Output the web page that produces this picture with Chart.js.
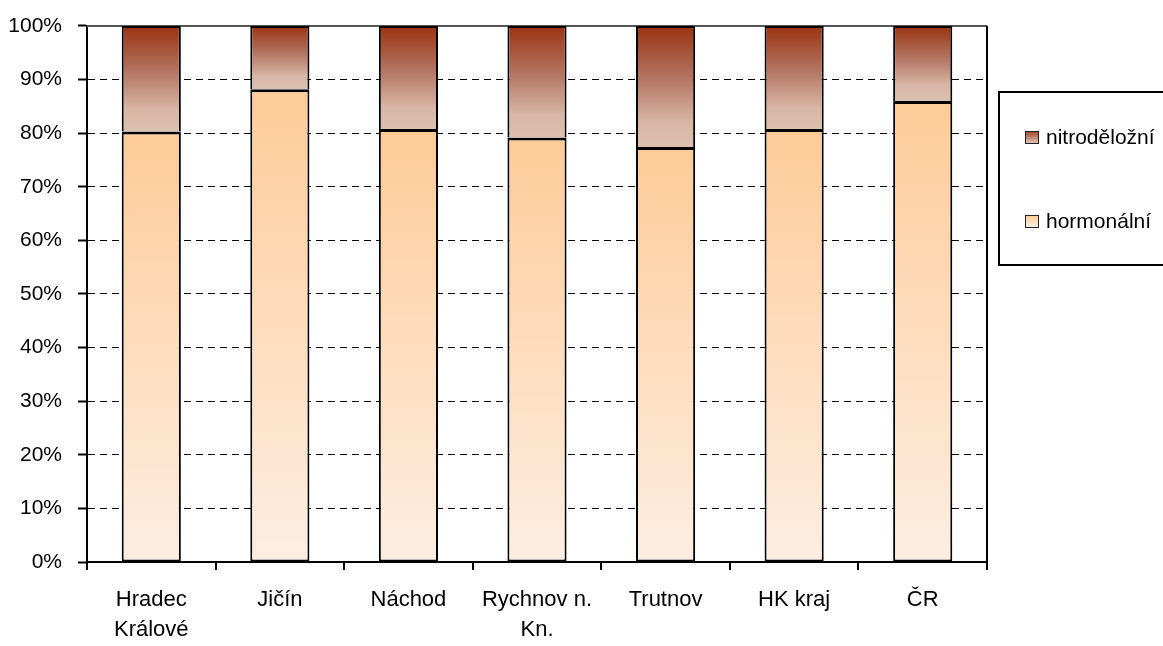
<!DOCTYPE html>
<html>
<head>
<meta charset="utf-8">
<script src="https://cdn.jsdelivr.net/npm/chart.js@4.4.0/dist/chart.umd.min.js"></script>
<style>
  html, body { margin: 0; padding: 0; background: #fff; }
  #wrap { position: relative; width: 1163px; height: 646px; overflow: hidden; }
  #legend {
    position: absolute; left: 998px; top: 91px; width: 190px; height: 175px;
    border: 2px solid #000; box-sizing: border-box;
    font-family: "Liberation Sans", Arial, sans-serif; font-size: 21px; color: #000;
  }
  .item { position: absolute; left: 25px; height: 30px; display: flex; align-items: center; }
  .sw { width: 12px; height: 11px; border: 1.5px solid #222; margin-right: 7px; }
</style>
</head>
<body>
<div id="wrap">
  <canvas id="chart" width="1163" height="646"></canvas>
  <div id="legend">
    <div class="item" style="top:29px"><span class="sw" style="background:linear-gradient(#a5492f,#e2c4b4)"></span>nitroděložní</div>
    <div class="item" style="top:113px"><span class="sw" style="background:linear-gradient(#fecb98,#fdeee2)"></span>hormonální</div>
  </div>
</div>
<script>
// data (share in %)
const categories = [['Hradec', 'Králové'], 'Jičín', 'Náchod', ['Rychnov n.', 'Kn.'], 'Trutnov', 'HK kraj', 'ČR'];
const hormonalni = [80.3, 88.2, 80.8, 79.2, 77.4, 80.8, 86.0];
const nitrodelozni = [19.7, 11.8, 19.2, 20.8, 22.6, 19.2, 14.0];
const yTicks = [0, 10, 20, 30, 40, 50, 60, 70, 80, 90, 100];

const FAMILY = '"Liberation Sans", Arial, sans-serif';

// vertical gradient over one bar segment, from -> to in data units
function segGradient(ctx, from, to, stops) {
  const chart = ctx.chart;
  if (!chart.chartArea || !chart.scales.y) return stops[stops.length - 1][1];
  const y = chart.scales.y;
  const g = chart.ctx.createLinearGradient(0, y.getPixelForValue(to), 0, y.getPixelForValue(from));
  stops.forEach(s => g.addColorStop(s[0], s[1]));
  return g;
}

const frame = {
  id: 'frame',
  beforeDatasetsDraw(chart) {
    const { ctx, chartArea: a } = chart;
    ctx.save();
    ctx.lineWidth = 2;
    ctx.strokeStyle = '#555';
    ctx.beginPath(); ctx.moveTo(a.left, a.top); ctx.lineTo(a.right, a.top); ctx.stroke();
    ctx.strokeStyle = '#000';
    ctx.beginPath(); ctx.moveTo(a.right, a.top); ctx.lineTo(a.right, a.bottom); ctx.stroke();
    ctx.restore();
  }
};

new Chart(document.getElementById('chart'), {
  type: 'bar',
  data: {
    labels: categories,
    datasets: [
      {
        label: 'hormonální',
        data: hormonalni,
        borderColor: '#000',
        borderWidth: { top: 3, left: 2, right: 2, bottom: 2 },
        borderSkipped: false,
        backgroundColor: ctx => segGradient(ctx, 0, hormonalni[ctx.dataIndex],
          [[0, '#fecb98'], [1, '#fdeee2']])
      },
      {
        label: 'nitroděložní',
        data: nitrodelozni,
        borderColor: '#000',
        borderWidth: 2,
        borderSkipped: 'bottom',
        backgroundColor: ctx => segGradient(ctx, hormonalni[ctx.dataIndex], 100,
          [[0, '#993311'], [0.45, '#b57866'], [0.8, '#d9b7a6'], [1, '#ddc0b0']])
      }
    ]
  },
  options: {
    responsive: false,
    animation: false,
    layout: { padding: { left: 0, right: 176, top: 14, bottom: 0 } },
    datasets: { bar: { barPercentage: 0.46, categoryPercentage: 1 } },
    plugins: { legend: { display: false }, tooltip: { enabled: false } },
    scales: {
      x: {
        stacked: true,
        offset: true,
        afterFit: axis => { axis.height = 84; },
        grid: { offset: true, drawOnChartArea: false, drawTicks: true, tickLength: 8, color: '#000', lineWidth: 2 },
        border: { color: '#000', width: 2 },
        ticks: { color: '#000', font: { family: FAMILY, size: 22, lineHeight: 1.36 }, padding: 15, maxRotation: 0, autoSkip: false }
      },
      y: {
        stacked: true,
        min: 0,
        max: 100,
        afterFit: axis => { axis.width = 87; },
        afterBuildTicks: axis => { axis.ticks = yTicks.map(v => ({ value: v })); },
        grid: { color: '#000', lineWidth: 1, tickLength: 9, tickBorderDash: [], tickWidth: 2 },
        border: { color: '#000', width: 2, dash: [7, 5] },
        ticks: { color: '#000', font: { family: FAMILY, size: 21, lineHeight: 0.95 }, padding: 16, callback: v => v + '%' }
      }
    }
  },
  plugins: [frame]
});
</script>
</body>
</html>
